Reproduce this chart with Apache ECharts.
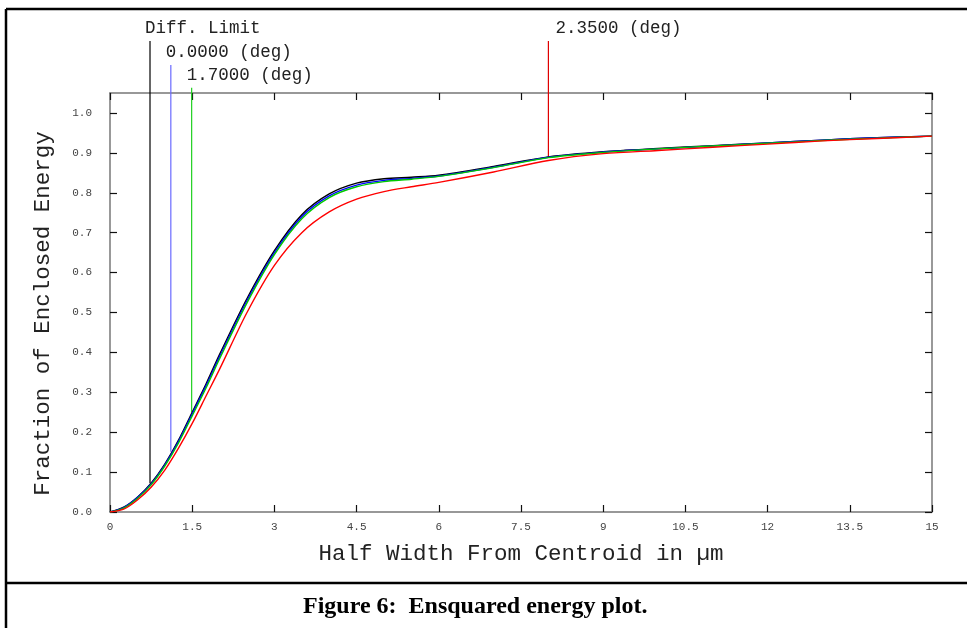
<!DOCTYPE html>
<html>
<head>
<meta charset="utf-8">
<script src="https://cdn.jsdelivr.net/npm/echarts@6/dist/echarts.min.js"></script>
<style>
html,body{margin:0;padding:0;background:#fff;}
#chart{width:967px;height:628px;}
</style>
</head>
<body>
<div id="chart"></div>
<script>
// ---- data ----
const halfWidth = [0, 0.25, 0.5, 0.75, 1, 1.25, 1.5, 1.75, 2, 2.5, 3, 3.5, 4, 4.5, 5, 5.5, 6, 7, 8, 9, 10, 11, 12, 13, 14, 15];
const diffLimit = [0, 0.012, 0.037, 0.072, 0.12, 0.18, 0.25, 0.32, 0.395, 0.535, 0.655, 0.745, 0.797, 0.824, 0.835, 0.839, 0.844, 0.866, 0.890, 0.903, 0.911, 0.918, 0.925, 0.932, 0.938, 0.942];
const deg0000 = [0, 0.011, 0.036, 0.070, 0.118, 0.177, 0.246, 0.316, 0.390, 0.530, 0.650, 0.740, 0.792, 0.819, 0.831, 0.836, 0.842, 0.864, 0.889, 0.902, 0.910, 0.917, 0.925, 0.932, 0.938, 0.942];
const deg1700 = [0, 0.010, 0.034, 0.068, 0.115, 0.173, 0.241, 0.310, 0.384, 0.524, 0.645, 0.735, 0.788, 0.815, 0.828, 0.834, 0.841, 0.863, 0.888, 0.901, 0.910, 0.917, 0.924, 0.931, 0.937, 0.942];
const deg2350 = [0, 0.007, 0.030, 0.062, 0.105, 0.160, 0.222, 0.290, 0.358, 0.500, 0.618, 0.700, 0.752, 0.784, 0.803, 0.815, 0.826, 0.852, 0.881, 0.898, 0.906, 0.914, 0.922, 0.930, 0.936, 0.942];

const seriesNames = ['Diff. Limit', '0.0000 (deg)', '1.7000 (deg)', '2.3500 (deg)'];
const markerX = [0.73, 1.11, 1.49, 8.0];
const markerBase = [0.072, 0.151, 0.25, 0.889];
const markerTop = [1.18, 1.12, 1.063, 1.18];

const xTicks = [0, 1.5, 3, 4.5, 6, 7.5, 9, 10.5, 12, 13.5, 15];
const yTicks = [0, 0.1, 0.2, 0.3, 0.4, 0.5, 0.6, 0.7, 0.8, 0.9, 1.0];

// ---- styles ----
const curveColors = ['#000000', '#0000ff', '#00c800', '#ff0000'];
const markerColors = ['#000000', '#6a6aff', '#20d020', '#e00000'];
const labelOffsets = [[-5, -13], [-5, -13], [-5, -12], [7, -13]];
const mono = 'Liberation Mono';

const curves = [diffLimit, deg0000, deg1700, deg2350];
const series = [];
curves.forEach((vals, i) => {
  series.push({
    name: seriesNames[i],
    type: 'line',
    xAxisIndex: 0, yAxisIndex: 0,
    data: halfWidth.map((x, k) => [x, vals[k]]),
    smooth: 0.3,
    showSymbol: false,
    lineStyle: { color: curveColors[i], width: 1.4 },
    z: 3 + i
  });
});
markerX.forEach((x, i) => {
  series.push({
    name: seriesNames[i] + ' marker',
    type: 'line',
    xAxisIndex: 0, yAxisIndex: 0,
    clip: false,
    data: [
      [x, markerBase[i]],
      {
        value: [x, markerTop[i]],
        label: {
          show: true,
          formatter: seriesNames[i],
          position: labelOffsets[i],
          align: 'left',
          verticalAlign: 'middle',
          fontFamily: mono,
          fontSize: 17.5,
          color: '#222'
        }
      }
    ],
    symbol: 'circle',
    symbolSize: 0,
    showSymbol: true,
    lineStyle: { color: markerColors[i], width: 1.2 },
    z: 2
  });
});

const tickStyle = { show: true, inside: true, length: 7, lineStyle: { color: '#111', width: 1.2 } };
const axisLineStyle = { show: true, onZero: false, lineStyle: { color: '#777', width: 1.5 } };

const option = {
  animation: false,
  backgroundColor: '#ffffff',
  title: {
    text: 'Figure 6:  Ensquared energy plot.',
    left: 298,
    top: 590,
    textStyle: { fontFamily: 'Liberation Serif', fontWeight: 'bold', fontSize: 24, color: '#000' }
  },
  grid: { left: 110, right: 35, top: 93, bottom: 116 },
  xAxis: [
    {
      type: 'value', min: 0, max: 15, interval: 1.5, position: 'bottom',
      axisLine: axisLineStyle, axisTick: tickStyle, splitLine: { show: false },
      axisLabel: { fontFamily: mono, fontSize: 11, color: '#444', margin: 10,
        formatter: v => (xTicks.indexOf(v) >= 0 ? String(v) : '') },
      name: 'Half Width From Centroid in µm',
      nameLocation: 'middle', nameGap: 31,
      nameTextStyle: { fontFamily: mono, fontSize: 22.5, color: '#222' }
    },
    {
      type: 'value', min: 0, max: 15, interval: 1.5, position: 'top',
      axisLine: axisLineStyle, axisTick: tickStyle, splitLine: { show: false },
      axisLabel: { show: false }
    }
  ],
  yAxis: [
    {
      type: 'value', min: 0, max: 1.05, interval: 0.1, position: 'left',
      axisLine: axisLineStyle, axisTick: tickStyle, splitLine: { show: false },
      axisLabel: { fontFamily: mono, fontSize: 11, color: '#444', margin: 18, showMaxLabel: false,
        formatter: v => { const r = Math.round(v * 10) / 10; return yTicks.indexOf(r) >= 0 && Math.abs(r - v) < 1e-6 ? r.toFixed(1) : ''; } },
      name: 'Fraction of Enclosed Energy',
      nameLocation: 'middle', nameGap: 55, nameRotate: 90,
      nameTextStyle: { fontFamily: mono, fontSize: 22.5, color: '#222', padding: [0, 22, 0, 0] }
    },
    {
      type: 'value', min: 0, max: 1.05, interval: 0.1, position: 'right',
      axisLine: axisLineStyle, axisTick: tickStyle, splitLine: { show: false },
      axisLabel: { show: false }
    }
  ],
  graphic: [
    { type: 'line', shape: { x1: 6, y1: 9, x2: 6, y2: 628 }, style: { stroke: '#000', lineWidth: 2.5 } },
    { type: 'line', shape: { x1: 6, y1: 9, x2: 967, y2: 9 }, style: { stroke: '#000', lineWidth: 2.5 } },
    { type: 'line', shape: { x1: 6, y1: 583, x2: 967, y2: 583 }, style: { stroke: '#000', lineWidth: 2.5 } }
  ],
  series: series
};

const chart = echarts.init(document.getElementById('chart'), null, { renderer: 'canvas' });
chart.setOption(option);
</script>
</body>
</html>
